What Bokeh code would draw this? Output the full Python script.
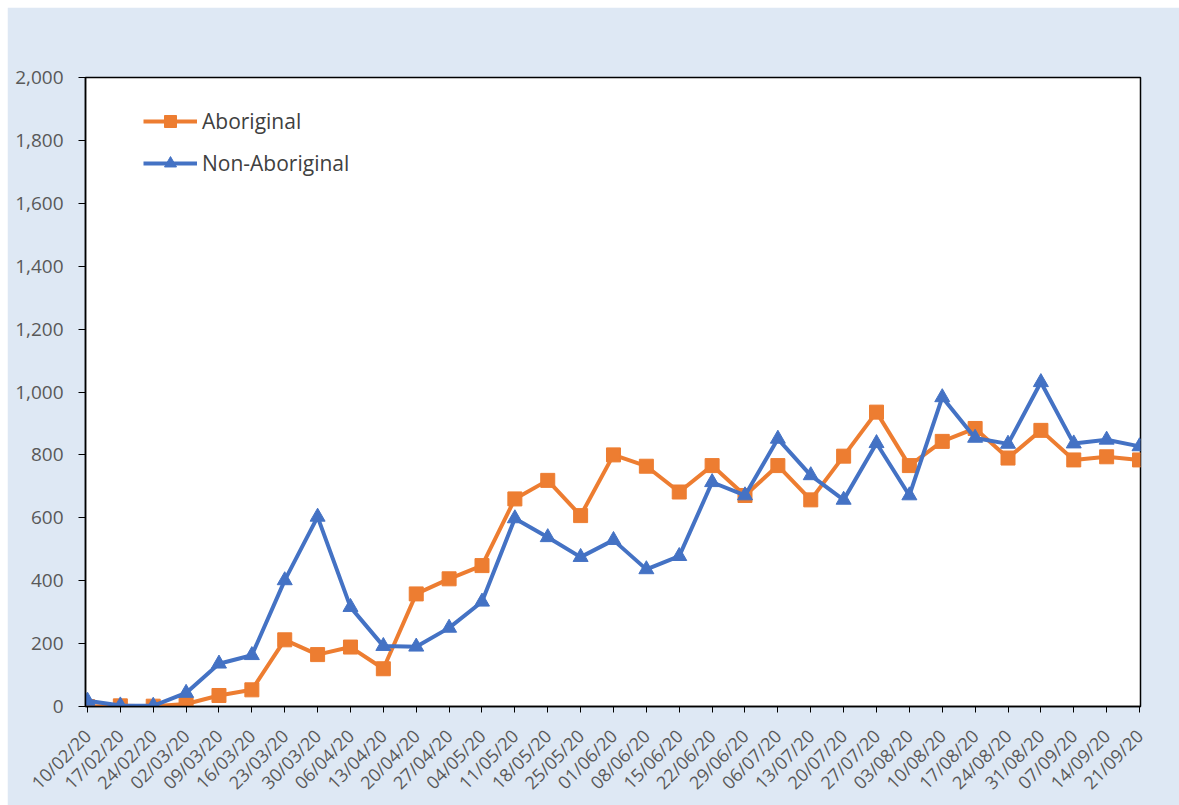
import math
from bokeh.plotting import figure
from bokeh.models import (Range1d, FixedTicker, Legend, LegendItem, Spacer,
                          NumeralTickFormatter)
from bokeh.layouts import column, row
from bokeh.embed import file_html
from bokeh.resources import INLINE

# Weekly dates (week commencing)
weeks = ["10/02/20", "17/02/20", "24/02/20", "02/03/20", "09/03/20", "16/03/20",
         "23/03/20", "30/03/20", "06/04/20", "13/04/20", "20/04/20", "27/04/20",
         "04/05/20", "11/05/20", "18/05/20", "25/05/20", "01/06/20", "08/06/20",
         "15/06/20", "22/06/20", "29/06/20", "06/07/20", "13/07/20", "20/07/20",
         "27/07/20", "03/08/20", "10/08/20", "17/08/20", "24/08/20", "31/08/20",
         "07/09/20", "14/09/20", "21/09/20"]

aboriginal = [0, 2, 1, 8, 35, 53, 212, 165, 189, 120, 358, 406,
              448, 660, 719, 607, 800, 764, 682, 766, 671, 766, 657, 796,
              936, 766, 843, 884, 790, 878, 784, 794, 784]

non_aboriginal = [18, 3, 2, 43, 136, 163, 401, 603, 316, 192, 190, 250,
                  333, 598, 538, 475, 529, 436, 478, 713, 671, 851, 735, 657,
                  837, 671, 983, 854, 835, 1031, 836, 848, 827]

y_ticks = list(range(0, 2001, 200))

ORANGE = "#ED7D31"
BLUE = "#4472C4"
PANEL = "#DEE8F4"
TICK_GREY = "#595959"
FONT = "Open Sans"

x = list(range(len(weeks)))

p = figure(width=1172, height=798, output_backend="svg", toolbar_location=None,
           x_range=Range1d(-0.06, len(weeks) - 1 + 0.03), y_range=Range1d(0, 2000),
           min_border_left=78, min_border_right=39, min_border_top=70,
           min_border_bottom=99)

p.background_fill_color = "white"
p.border_fill_color = PANEL
p.outline_line_color = "black"
p.outline_line_width = 1.5
p.xgrid.visible = False
p.ygrid.visible = False

# y axis
p.yaxis.ticker = FixedTicker(ticks=y_ticks)
p.yaxis.formatter = NumeralTickFormatter(format="0,0")
p.yaxis.axis_line_color = "black"
p.yaxis.axis_line_width = 1.5
p.yaxis.major_tick_in = 0
p.yaxis.major_tick_out = 7
p.yaxis.major_tick_line_color = "black"
p.yaxis.minor_tick_line_color = None
p.yaxis.major_label_text_font = FONT
p.yaxis.major_label_text_font_size = "19px"
p.yaxis.major_label_text_color = TICK_GREY
p.yaxis.major_label_standoff = 15

# x axis
p.xaxis.ticker = FixedTicker(ticks=x)
p.xaxis.major_label_overrides = {i: w for i, w in enumerate(weeks)}
p.xaxis.major_label_orientation = math.pi / 4
p.xaxis.axis_line_color = "black"
p.xaxis.axis_line_width = 1.5
p.xaxis.major_tick_in = 0
p.xaxis.major_tick_out = 6
p.xaxis.major_tick_line_color = "black"
p.xaxis.minor_tick_line_color = None
p.xaxis.major_label_text_font = FONT
p.xaxis.major_label_text_font_size = "18px"
p.xaxis.major_label_text_color = TICK_GREY
p.xaxis.major_label_standoff = 20

# series
a_line = p.line(x, aboriginal, line_color=ORANGE, line_width=4)
a_pts = p.scatter(x, aboriginal, marker="square", size=14,
                  fill_color=ORANGE, line_color=ORANGE)
n_line = p.line(x, non_aboriginal, line_color=BLUE, line_width=4)
n_pts = p.scatter(x, non_aboriginal, marker="triangle", size=15,
                  fill_color=BLUE, line_color=BLUE)

legend = Legend(items=[LegendItem(label="Aboriginal", renderers=[a_line, a_pts]),
                       LegendItem(label="Non-Aboriginal", renderers=[n_line, n_pts])],
                location=(58, 528), orientation="vertical")
legend.background_fill_alpha = 0
legend.border_line_color = None
legend.glyph_width = 54
legend.glyph_height = 30
legend.spacing = 12
legend.padding = 0
legend.margin = 0
legend.label_standoff = 5
legend.label_text_font = FONT
legend.label_text_font_size = "21px"
legend.label_text_color = "#404040"
p.add_layout(legend)

layout = column(Spacer(height=7), row(Spacer(width=7), p))

open("out.html", "w").write(file_html(layout, INLINE))
